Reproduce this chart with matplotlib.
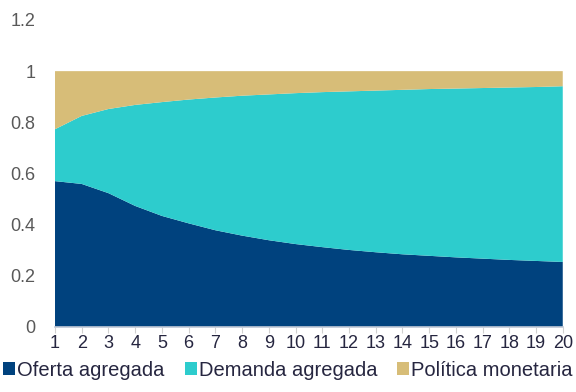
import matplotlib
matplotlib.use("Agg")
import matplotlib.pyplot as plt
from matplotlib.patches import Patch
import numpy as np

plt.rcParams['font.family'] = ['Liberation Sans', 'DejaVu Sans']

# horizon (quarters)
horizon = list(range(1, 21))

# share of variance explained by each shock
oferta = [0.570, 0.559, 0.523, 0.473, 0.434, 0.405, 0.378, 0.357, 0.339, 0.324,
          0.312, 0.301, 0.292, 0.284, 0.278, 0.272, 0.267, 0.262, 0.258, 0.254]
demanda_acum = [0.773, 0.825, 0.852, 0.868, 0.879, 0.889, 0.897, 0.904, 0.909, 0.914,
                0.918, 0.921, 0.924, 0.927, 0.930, 0.932, 0.934, 0.936, 0.938, 0.941]
demanda = [round(t - o, 3) for t, o in zip(demanda_acum, oferta)]
politica = [round(1 - t, 3) for t in demanda_acum]

labels = ['Oferta agregada', 'Demanda agregada', 'Política monetaria']
colors = ['#00427E', '#2DCCCD', '#D7BD78']

fig = plt.figure(figsize=(5.76, 3.92), dpi=100)
ax = fig.add_axes([0.0955, 0.166, 0.8815, 0.783])

ax.stackplot(horizon, oferta, demanda, politica, colors=colors, linewidth=0)

ax.set_xlim(1, 20)
ax.set_ylim(0, 1.2)
ax.set_xticks(horizon)
ax.set_yticks([0, 0.2, 0.4, 0.6, 0.8, 1, 1.2])
ax.set_yticklabels(['0', '0.2', '0.4', '0.6', '0.8', '1', '1.2'])

for side in ['top', 'right', 'left']:
    ax.spines[side].set_visible(False)
ax.spines['bottom'].set_color('#BFC7D5')
ax.spines['bottom'].set_linewidth(1.2)
ax.tick_params(axis='y', length=0, pad=14, labelsize=13, labelcolor='#595959')
ax.tick_params(axis='x', length=4, color='#D0D0D0', labelsize=13, labelcolor='#262640', pad=2)

handles = [Patch(facecolor=c, edgecolor='none') for c in colors]
fig.legend(handles, labels, loc='lower center', bbox_to_anchor=(0.5, -0.015), ncol=3,
           frameon=False, fontsize=14.5, handlelength=0.6, handleheight=0.6,
           handletextpad=0.1, columnspacing=1.0, labelcolor='#262640')

fig.savefig('out.png', dpi=100)
